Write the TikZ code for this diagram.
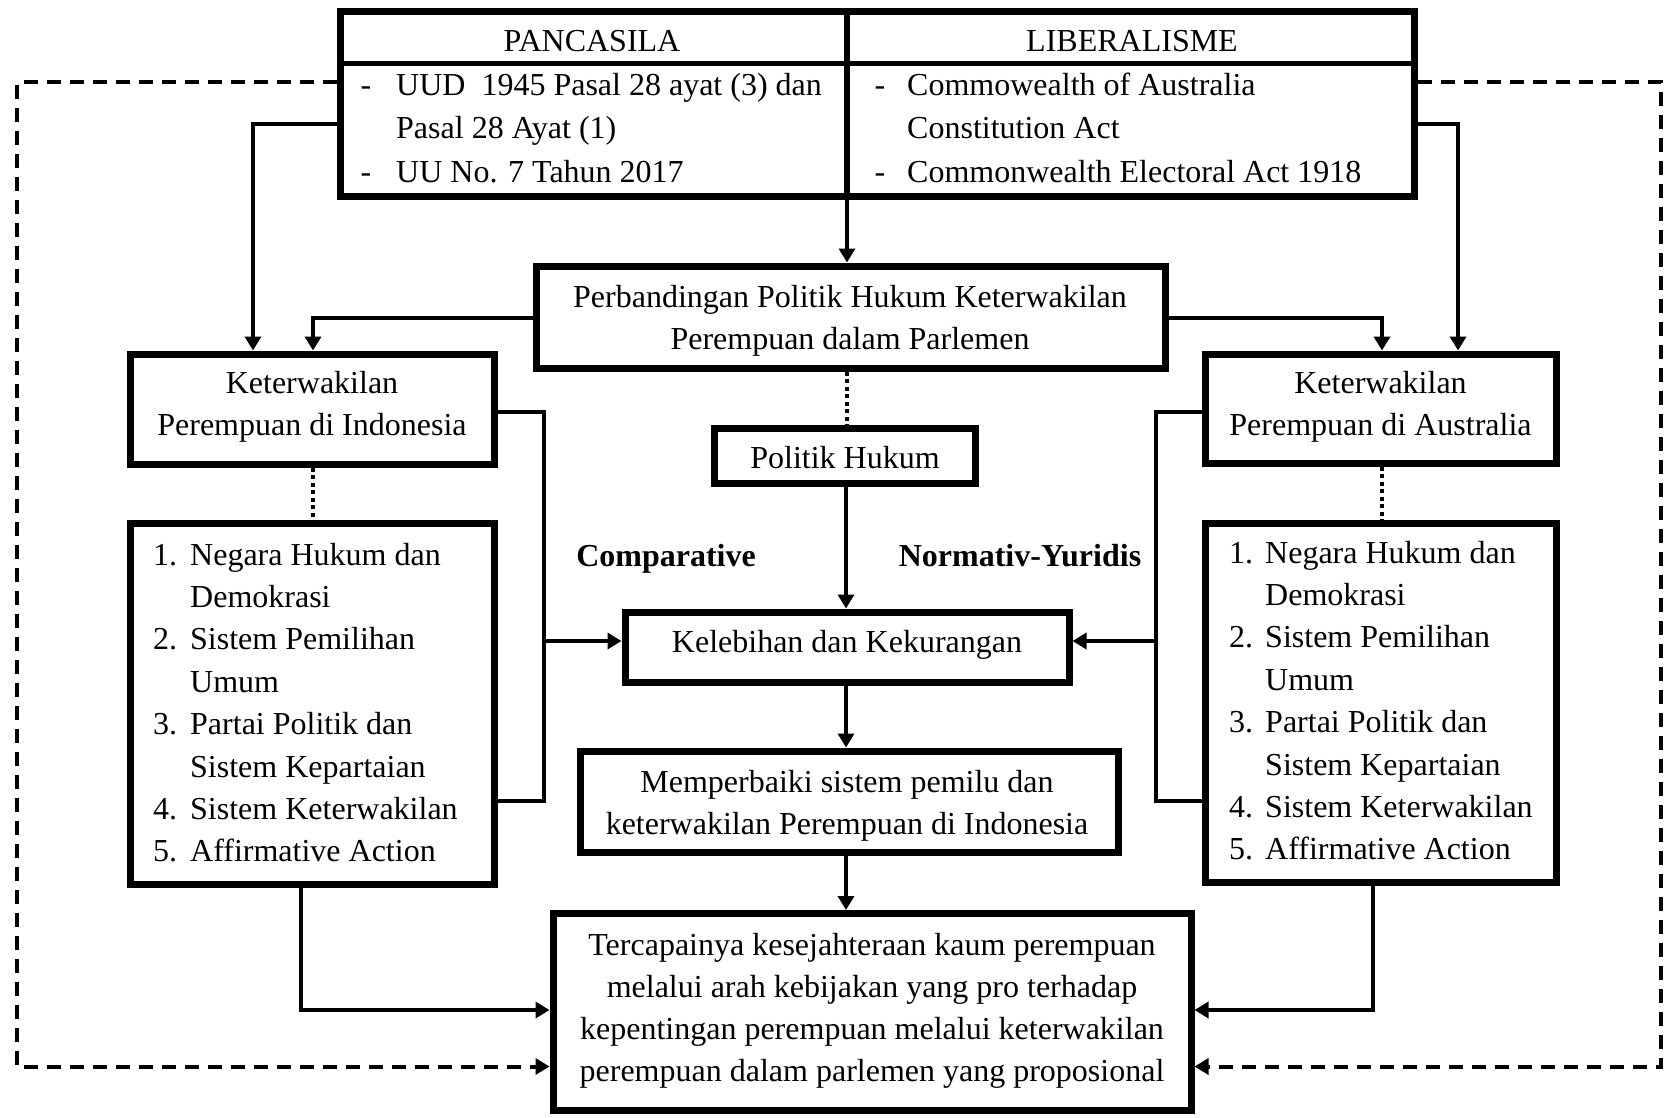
\documentclass[tikz,border=0pt]{standalone}
\usepackage{fontspec}
\setmainfont{Liberation Serif}
\usetikzlibrary{arrows.meta}
\begin{document}
\begin{tikzpicture}[x=1pt,y=-1pt,
  box/.style={draw, line width=7pt, inner sep=0pt},
  txt/.style={inner sep=0pt, anchor=base, font=\fontsize{32}{42}\selectfont},
  txtl/.style={inner sep=0pt, anchor=base west, font=\fontsize{32}{42}\selectfont},
  txtb/.style={inner sep=0pt, anchor=base, font=\fontsize{32}{42}\selectfont\bfseries},
  conn/.style={line width=4pt},
  arr/.style={conn, -{Triangle[length=14pt,width=16pt]}},
  dsh/.style={line width=4pt, dash pattern=on 14pt off 9pt, -{Triangle[length=14pt,width=16pt]}},
  dotl/.style={line width=4.5pt, dash pattern=on 4pt off 3.5pt}]
\useasboundingbox (0,0) rectangle (1664,1117);

% boxes
\node[box, minimum width=1074, minimum height=185] (tbl) at (877,104) {};
\node[box, minimum width=629, minimum height=102] (perb) at (850.5,317) {};
\node[box, minimum width=364, minimum height=110] (indo) at (312,409) {};
\node[box, minimum width=351, minimum height=109] (aus) at (1380.5,408.5) {};
\node[box, minimum width=364, minimum height=361] (indol) at (312,703.5) {};
\node[box, minimum width=351, minimum height=359] (ausl) at (1380.5,702.5) {};
\node[box, minimum width=261, minimum height=55] (pol) at (844.5,456) {};
\node[box, minimum width=444, minimum height=70] (keb) at (847,647) {};
\node[box, minimum width=538, minimum height=101] (mem) at (849,801.5) {};
\node[box, minimum width=638, minimum height=197] (ter) at (872,1012) {};

% table inner lines
\coordinate (hy) at (0,63.7);
\coordinate (dv) at (847,0);
\draw[line width=5.5pt] (tbl.west |- hy) -- (tbl.east |- hy);
\draw[line width=5.5pt] (dv |- tbl.north) -- (dv |- tbl.south);

% texts: table
\node[txt] (pan) at (592,51.7) {PANCASILA};
\node[txt] (lib) at (1132,51.7) {LIBERALISME};
\node[txt] at (366,95) {-};
\node[txtl] at (396,95) {UUD\ \ 1945 Pasal 28 ayat (3) dan};
\node[txtl] at (396,138) {Pasal 28 Ayat (1)};
\node[txt] at (366,182) {-};
\node[txtl] at (396,182) {UU No. 7 Tahun 2017};
\node[txt] at (880,95) {-};
\node[txtl] at (907,95) {Commowealth of Australia};
\node[txtl] at (907,138) {Constitution Act};
\node[txt] at (880,182) {-};
\node[txtl] at (907,182) {Commonwealth Electoral Act 1918};

% centered box texts
\node[txt] at (850,307) {Perbandingan Politik Hukum Keterwakilan};
\node[txt] at (850,349) {Perempuan dalam Parlemen};
\node[txt] at (312,393) {Keterwakilan};
\node[txt] at (312,435) {Perempuan di Indonesia};
\node[txt] at (1380.5,393) {Keterwakilan};
\node[txt] at (1380.5,435) {Perempuan di Australia};
\node[txt] at (845,468) {Politik Hukum};
\node[txt] at (847,652.5) {Kelebihan dan Kekurangan};
\node[txt] at (847,792) {Memperbaiki sistem pemilu dan};
\node[txt] at (847,834) {keterwakilan Perempuan di Indonesia};
\node[txt] at (872,955) {Tercapainya kesejahteraan kaum perempuan};
\node[txt] at (872,997) {melalui arah kebijakan yang pro terhadap};
\node[txt] at (872,1039) {kepentingan perempuan melalui keterwakilan};
\node[txt] at (872,1081) {perempuan dalam parlemen yang proposional};

% labels
\node[txtb] at (666,566.6) {Comparative};
\node[txtb] at (1020,566.6) {Normativ-Yuridis};

% lists
\node[txtl] at (153,565) {1.};  \node[txtl] at (190,565) {Negara Hukum dan};
\node[txtl] at (190,607.4) {Demokrasi};
\node[txtl] at (153,649.8) {2.}; \node[txtl] at (190,649.8) {Sistem Pemilihan};
\node[txtl] at (190,692.2) {Umum};
\node[txtl] at (153,734.6) {3.}; \node[txtl] at (190,734.6) {Partai Politik dan};
\node[txtl] at (190,777) {Sistem Kepartaian};
\node[txtl] at (153,819.4) {4.}; \node[txtl] at (190,819.4) {Sistem Keterwakilan};
\node[txtl] at (153,861.8) {5.}; \node[txtl] at (190,861.8) {Affirmative Action};

\node[txtl] at (1229,563) {1.};  \node[txtl] at (1265,563) {Negara Hukum dan};
\node[txtl] at (1265,605.4) {Demokrasi};
\node[txtl] at (1229,647.8) {2.}; \node[txtl] at (1265,647.8) {Sistem Pemilihan};
\node[txtl] at (1265,690.2) {Umum};
\node[txtl] at (1229,732.6) {3.}; \node[txtl] at (1265,732.6) {Partai Politik dan};
\node[txtl] at (1265,775) {Sistem Kepartaian};
\node[txtl] at (1229,817.4) {4.}; \node[txtl] at (1265,817.4) {Sistem Keterwakilan};
\node[txtl] at (1229,859.8) {5.}; \node[txtl] at (1265,859.8) {Affirmative Action};

% connectors from table
\coordinate (tl) at (253,124);
\coordinate (tr) at (1458,124);
\draw[arr] (tbl.west |- tl) -- (tl) -- (tl |- indo.north);
\draw[arr] (tbl.east |- tr) -- (tr) -- (tr |- aus.north);
\draw[arr] (dv |- tbl.south) -- (dv |- perb.north);

% from perbandingan
\coordinate (pl) at (313,318);
\coordinate (pr) at (1382,318);
\draw[arr] (perb.west |- pl) -- (pl) -- (pl |- indo.north);
\draw[arr] (perb.east |- pr) -- (pr) -- (pr |- aus.north);

% dotted
\draw[dotl] (perb.south -| dv) -- (dv |- pol.north);
\draw[dotl] (indo.south -| pl) -- (pl |- indol.north);
\draw[dotl] (aus.south -| pr) -- (pr |- ausl.north);

% brackets
\coordinate (bl1) at (544,412);
\coordinate (bl2) at (544,801);
\coordinate (bl3) at (544,641);
\draw[conn] (indo.east |- bl1) -- (bl1) -- (bl2) -- (indol.east |- bl2);
\draw[arr] (bl3) -- (keb.west |- bl3);
\coordinate (br1) at (1156,412);
\coordinate (br2) at (1156,801);
\coordinate (br3) at (1156,641);
\draw[conn] (aus.west |- br1) -- (br1) -- (br2) -- (ausl.west |- br2);
\draw[arr] (br3) -- (keb.east |- br3);

% central chain
\coordinate (cx) at (846,0);
\draw[arr] (pol.south -| cx) -- (cx |- keb.north);
\draw[arr] (keb.south -| cx) -- (cx |- mem.north);
\draw[arr] (mem.south -| cx) -- (cx |- ter.north);

% lists to final
\coordinate (ll) at (301,1010);
\coordinate (lr) at (1373,1010);
\draw[arr] (indol.south -| ll) -- (ll) -- (ter.west |- ll);
\draw[arr] (ausl.south -| lr) -- (lr) -- (ter.east |- lr);

% dashed loops
\coordinate (dl1) at (17,82);
\coordinate (dl2) at (17,1066.5);
\coordinate (dr1) at (1661,82);
\coordinate (dr2) at (1661,1066.5);
\draw[dsh] (tbl.west |- dl1) -- (dl1) -- (dl2) -- (ter.west |- dl2);
\draw[dsh] (tbl.east |- dr1) -- (dr1) -- (dr2) -- (ter.east |- dr2);
\end{tikzpicture}
\end{document}
